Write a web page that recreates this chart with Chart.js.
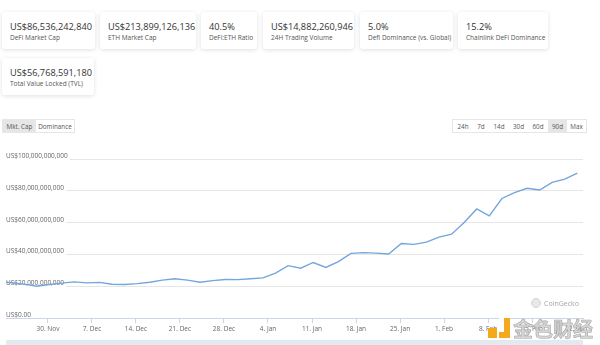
<!DOCTYPE html>
<html>
<head>
<meta charset="utf-8">
<script src="https://cdn.jsdelivr.net/npm/chart.js@4/dist/chart.umd.min.js"></script>
<style>
  html,body{margin:0;padding:0;background:#fff;width:600px;height:345px;overflow:hidden;font-family:"Open Sans","Noto Sans",sans-serif;}
  .card{position:absolute;background:#fff;border-radius:3px;box-shadow:0 1px 4px rgba(0,0,0,0.13);box-sizing:border-box;padding:0 0 0 8px;}
  .card .v{position:absolute;left:8px;top:8px;font-size:9.2px;color:#333;white-space:nowrap;}
  .card .l{position:absolute;left:8px;top:21px;font-size:6.5px;color:#555;white-space:nowrap;}
  .btngrp{position:absolute;display:flex;border:1px solid #e6e6e6;box-sizing:border-box;height:14px;}
  .btn{font-size:6.3px;color:#555;display:flex;align-items:center;justify-content:center;height:100%;}
  .btn.on{background:#e6e6e6;}
  #wrap{position:absolute;left:0;top:145px;width:600px;height:200px;}
  .nav{position:absolute;left:6px;top:340px;width:577px;height:5px;background:#e4e8ef;}
  .cg{position:absolute;left:531px;top:298px;display:flex;align-items:center;font-size:7px;color:#a6a6a6;}
  .cg .ic{width:10px;height:10px;border-radius:50%;background:#e8e8e8;border:1px solid #d6d6d6;margin-right:3px;box-sizing:border-box;}
  .wm{position:absolute;left:513px;top:314px;font-family:"Noto Sans CJK SC",sans-serif;font-size:20px;font-weight:bold;color:rgba(210,210,210,0.9);-webkit-text-stroke:0.6px rgba(150,150,150,0.8);white-space:nowrap;}
  .lg1{position:absolute;left:488px;top:328px;width:9px;height:10px;background:#f4a81d;}
  .lg2{position:absolute;left:499px;top:318px;width:11px;height:20px;background:#f4a81d;}
  .lg3{position:absolute;left:499px;top:318px;width:5px;height:14px;background:#fff;}
</style>
</head>
<body>
<div class="card" style="left:2px;top:12px;width:93px;height:37px;"><div class="v">US$86,536,242,840</div><div class="l">DeFi Market Cap</div></div>
<div class="card" style="left:100px;top:12px;width:96px;height:37px;"><div class="v">US$213,899,126,136</div><div class="l">ETH Market Cap</div></div>
<div class="card" style="left:201px;top:12px;width:56px;height:37px;"><div class="v">40.5%</div><div class="l">DeFi:ETH Ratio</div></div>
<div class="card" style="left:263px;top:12px;width:91px;height:37px;"><div class="v">US$14,882,260,946</div><div class="l">24H Trading Volume</div></div>
<div class="card" style="left:360px;top:12px;width:93px;height:37px;"><div class="v">5.0%</div><div class="l">Defi Dominance (vs. Global)</div></div>
<div class="card" style="left:458px;top:12px;width:90px;height:37px;"><div class="v">15.2%</div><div class="l">Chainlink DeFi Dominance</div></div>
<div class="card" style="left:2px;top:58px;width:92px;height:37px;"><div class="v">US$56,768,591,180</div><div class="l">Total Value Locked (TVL)</div></div>

<div class="btngrp" style="left:2px;top:119px;width:73px;">
  <div class="btn on" style="width:33px;">Mkt. Cap</div>
  <div class="btn" style="width:38px;">Dominance</div>
</div>
<div class="btngrp" style="left:452px;top:119px;width:135px;">
  <div class="btn" style="width:20px;">24h</div>
  <div class="btn" style="width:16px;">7d</div>
  <div class="btn" style="width:20px;">14d</div>
  <div class="btn" style="width:19px;">30d</div>
  <div class="btn" style="width:20px;">60d</div>
  <div class="btn on" style="width:19px;">90d</div>
  <div class="btn" style="width:19px;">Max</div>
</div>

<div id="wrap"><canvas id="c" width="600" height="200"></canvas></div>
<div class="nav"></div>
<div class="cg"><div class="ic"></div>CoinGecko</div>
<div class="lg1"></div><div class="lg2"></div><div class="lg3"></div>
<div class="wm">金色财经</div>

<script>
// Days relative to 30 Nov (day 0)
const days = [-6.67, -5.8, -3.8, -1.8, 0.2, 2.2, 4.2, 6.2, 8.2, 10.2, 12.2, 14.2, 16.2, 18.2, 20.2, 22.2, 24.2, 26.2, 28.2, 30.2, 32.2, 34.2, 36.2, 38.2, 40.2, 42.2, 44.2, 46.2, 48.2, 50.2, 52.2, 54.2, 56.2, 58.2, 60.2, 62.2, 64.2, 66.2, 68.2, 70.2, 72.2, 74.2, 76.2, 78.2, 80.2, 82.2, 84.2];
// DeFi market cap, billions USD
const marketCapB = [22.6, 22.3, 21.4, 20.1, 21.2, 22.0, 22.8, 22.2, 22.5, 21.3, 21.2, 21.7, 22.6, 23.9, 24.8, 23.9, 22.6, 23.6, 24.3, 24.2, 24.8, 25.3, 28.3, 33.0, 31.4, 35.0, 31.9, 35.5, 40.7, 41.2, 40.9, 40.3, 46.9, 46.4, 47.8, 50.9, 52.8, 60.1, 68.6, 64.3, 75.2, 78.9, 81.6, 80.5, 85.3, 87.4, 91.2];
const tickDays = [0, 7, 14, 21, 28, 35, 42, 49, 56, 63, 70, 77, 84];
const tickLabels = ["30. Nov", "7. Dec", "14. Dec", "21. Dec", "28. Dec", "4. Jan", "11. Jan", "18. Jan", "25. Jan", "1. Feb", "8. Feb", "15. Feb", "22. Feb"];
const yTickLabels = ["US$0.00", "US$20,000,000,000", "US$40,000,000,000", "US$60,000,000,000", "US$80,000,000,000", "US$100,000,000,000"];

const points = days.map((d, i) => ({x: d, y: marketCapB[i]}));

new Chart(document.getElementById('c'), {
  type: 'line',
  data: { datasets: [{ data: points, borderColor: '#72a6dc', borderWidth: 1.4, pointRadius: 0, tension: 0, fill: false }] },
  options: {
    responsive: false, animation: false,
    layout: { padding: { left: 6, right: 17, top: 14, bottom: 10 } },
    plugins: { legend: { display: false }, tooltip: { enabled: false } },
    scales: {
      x: {
        type: 'linear', min: -6.67, max: 85.1,
        afterBuildTicks: (s) => { s.ticks = tickDays.map(v => ({value: v})); },
        ticks: { autoSkip: false, maxRotation: 0, padding: 2, color: '#666', font: { size: 6.5, family: '"Open Sans"' },
          callback: (v, i) => tickLabels[i] },
        grid: { display: true, drawOnChartArea: false, drawTicks: true, tickLength: 5, color: '#ccd6eb' },
        border: { display: true, color: '#ccd6eb', z: 1 }
      },
      y: {
        min: 0, max: 100,
        afterBuildTicks: (s) => { s.ticks = [0, 20, 40, 60, 80, 100].map(v => ({value: v})); },
        ticks: { mirror: true, padding: 0, labelOffset: -3, color: '#666', font: { size: 6.5, family: '"Open Sans"' },
          showLabelBackdrop: true, backdropColor: '#fff', backdropPadding: { top: 0, bottom: 2, left: 0, right: 2 },
          callback: (v, i) => yTickLabels[i] },
        grid: { color: '#e6e6e6', drawTicks: false },
        border: { display: false }
      }
    }
  }
});
</script>
</body>
</html>
